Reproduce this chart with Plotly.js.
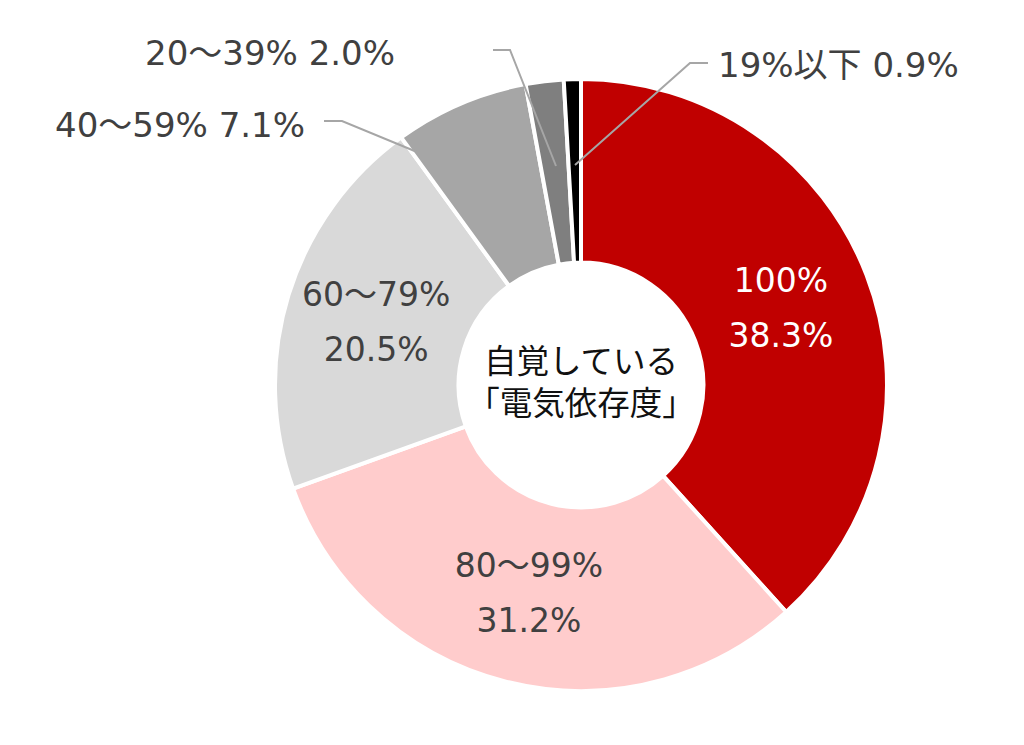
<!DOCTYPE html>
<html>
<head>
<meta charset="utf-8">
<script src="https://cdn.plot.ly/plotly-3.0.1.min.js"></script>
<style>html,body{margin:0;padding:0;background:#fff;}#chart{width:1024px;height:745px;}</style>
</head>
<body>
<div id="chart"></div>
<script>
// Data
var labels = ['100%', '80～99%', '60～79%', '40～59%', '20～39%', '19%以下'];
var values = [38.3, 31.2, 20.5, 7.1, 2.0, 0.9];
var colors = ['#C00000', '#FFCCCC', '#D9D9D9', '#A6A6A6', '#7F7F7F', '#000000'];
var insideFlags = [true, true, true, false, false, false];
var centerText = '自覚している<br>「電気依存度」';

var W = 1024, H = 745;
function px(x) { return x / W; }
function py(y) { return 1 - y / H; }

var FONT = '"DejaVu Sans", "Noto Sans CJK JP", sans-serif';
var CJKFONT = '"Noto Sans CJK JP", sans-serif';

var texttemplates = labels.map(function (l, i) {
  return insideFlags[i]
    ? '<span style="font-size:33px">%{label}</span><br> <br><span style="font-size:33px">%{value:.1f}%</span>'
    : '';
});
var textpositions = insideFlags.map(function (f) { return f ? 'inside' : 'none'; });
var textcolors = labels.map(function (l, i) { return i === 0 ? '#FFFFFF' : '#404040'; });

var trace = {
  type: 'pie',
  labels: labels,
  values: values,
  sort: false,
  direction: 'clockwise',
  rotation: 0,
  hole: 0.4,
  marker: { colors: colors, line: { color: '#FFFFFF', width: 4 } },
  texttemplate: texttemplates,
  textposition: textpositions,
  insidetextorientation: 'horizontal',
  textfont: { family: FONT, size: 21, color: textcolors },
  title: { text: centerText, position: 'middle center',
           font: { family: CJKFONT, size: 33, color: '#111111' } },
  domain: { x: [px(275), px(887)], y: [py(691), py(79)] },
  showlegend: false,
  hoverinfo: 'label+value'
};

// outside labels (small slices)
var outside = [
  { i: 5, tx: 716, ty: 65, anchor: 'left', line: [[708, 63], [690, 63], [575, 165]] },
  { i: 4, tx: 397, ty: 53, anchor: 'right', line: [[493, 50], [510, 50], [556, 166]] },
  { i: 3, tx: 307, ty: 125, anchor: 'right', line: [[324, 121], [342, 121], [417, 152]] }
];

var annotations = [];
var shapes = [];
outside.forEach(function (o) {
  annotations.push({
    text: labels[o.i] + ' ' + values[o.i].toFixed(1) + '%',
    x: px(o.tx), y: py(o.ty), xref: 'paper', yref: 'paper',
    showarrow: false, xanchor: o.anchor, yanchor: 'middle',
    font: { family: FONT, size: 34, color: '#404040' }
  });
  var p = o.line.map(function (pt, k) { return (k ? 'L' : 'M') + px(pt[0]) + ',' + py(pt[1]); }).join(' ');
  shapes.push({ type: 'path', xref: 'paper', yref: 'paper', path: p,
    line: { color: '#A6A6A6', width: 2 } });
});

var layout = {
  width: W, height: H,
  margin: { l: 0, r: 0, t: 0, b: 0 },
  paper_bgcolor: '#FFFFFF',
  font: { family: FONT },
  annotations: annotations,
  shapes: shapes
};

Plotly.newPlot('chart', [trace], layout, { displayModeBar: false, staticPlot: true });
</script>
</body>
</html>
